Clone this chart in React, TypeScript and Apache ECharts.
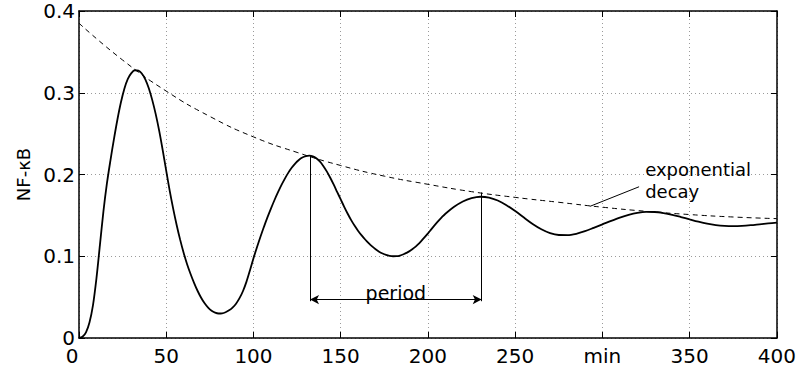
import React, { useEffect, useRef } from "react";
import * as echarts from "echarts";

// time (min) and NF-kB level of the damped oscillation
const timeMin: number[] = [
  0, 2, 4, 6, 8, 10, 12, 14, 16, 18,
  20, 22, 24, 26, 28, 30, 32, 34, 36, 38,
  40, 42, 44, 46, 48, 50, 52, 54, 56, 58,
  60, 62, 64, 66, 68, 70, 72, 74, 76, 78,
  80, 82, 84, 86, 88, 90, 92, 94, 96, 98,
  100, 102, 104, 106, 108, 110, 112, 114, 116, 118,
  120, 122, 124, 126, 128, 130, 132, 134, 136, 138,
  140, 142, 144, 146, 148, 150, 152, 154, 156, 158,
  160, 162, 164, 166, 168, 170, 172, 174, 176, 178,
  180, 182, 184, 186, 188, 190, 192, 194, 196, 198,
  200, 202, 204, 206, 208, 210,
  215, 220, 225, 230, 235, 240, 245, 250, 255, 260, 265, 270, 275, 280, 285, 290, 295,
  300, 305, 310, 315, 320, 325, 330, 335, 340, 345, 350, 355, 360, 365, 370, 375, 380, 385, 390, 395, 400,
];
const nfkb: number[] = [
  0, 0.0015, 0.007, 0.019, 0.04, 0.073, 0.114, 0.155, 0.189, 0.217,
  0.243, 0.267, 0.288, 0.305, 0.317, 0.324, 0.3275, 0.327, 0.3235, 0.3165,
  0.3055, 0.291, 0.2735, 0.253, 0.2295, 0.2045, 0.18, 0.158, 0.138, 0.12,
  0.104, 0.09, 0.078, 0.0672, 0.0575, 0.0492, 0.0424, 0.0371, 0.0333, 0.031,
  0.03, 0.0302, 0.0315, 0.0338, 0.0372, 0.042, 0.0487, 0.0575, 0.069, 0.083,
  0.0975, 0.111, 0.1238, 0.136, 0.1475, 0.1583, 0.1685, 0.178, 0.187, 0.195,
  0.2023, 0.2085, 0.2137, 0.2178, 0.2207, 0.2224, 0.223, 0.2222, 0.2198, 0.216,
  0.2105, 0.2038, 0.196, 0.1875, 0.1785, 0.1695, 0.1605, 0.152, 0.1442, 0.1372,
  0.131, 0.1255, 0.1205, 0.116, 0.112, 0.1085, 0.1056, 0.1033, 0.1016, 0.1005,
  0.1, 0.1001, 0.1009, 0.1024, 0.1044, 0.107, 0.1102, 0.114, 0.1183, 0.123,
  0.128, 0.1332, 0.1383, 0.1432, 0.1478, 0.152,
  0.1605, 0.167, 0.171, 0.1728, 0.1718, 0.1682, 0.1625, 0.1553, 0.1473, 0.1395, 0.133, 0.1283, 0.126, 0.1258, 0.1275, 0.1307, 0.1348,
  0.139, 0.1433, 0.1473, 0.1506, 0.153, 0.1542, 0.1541, 0.1528, 0.1507, 0.148, 0.1451, 0.1423, 0.1399, 0.1382, 0.1372, 0.1369, 0.1372, 0.138, 0.1391, 0.1402, 0.1412,
];

// dashed envelope ("exponential decay")
const decayTime: number[] = [0, 25, 50, 75, 100, 125, 150, 175, 200, 225, 250, 275, 300, 325, 350, 375, 400];
const decayValue: number[] = [0.385, 0.34, 0.302, 0.271, 0.246, 0.227, 0.211, 0.198, 0.188, 0.179, 0.172, 0.166, 0.16, 0.155, 0.151, 0.148, 0.146];

// tick labels
const xTickValues: number[] = [0, 50, 100, 150, 200, 250, 300, 350, 400];
const xTickLabels: string[] = ["0", "50", "100", "150", "200", "250", "min", "350", "400"];
const yTickValues: number[] = [0, 0.1, 0.2, 0.3, 0.4];
const yTickLabels: string[] = ["0", "0.1", "0.2", "0.3", "0.4"];
const yAxisName = "NF-κB";

// annotations (data coordinates)
const periodStart = { t: 132.4, peak: 0.223 };
const periodEnd = { t: 230.8, peak: 0.178 };
const periodArrowLevel = 0.047;
const periodLineBottom = 0.045;
const periodLabel = "period";
const decayPointerFrom: [number, number] = [292.8, 0.161];
const decayPointerTo: [number, number] = [321, 0.185];
const decayTextAt: [number, number] = [324.5, 0.193];
const decayLabel = "exponential\ndecay";

const FONT = "DejaVu Sans";

export default function App() {
  const ref = useRef<HTMLDivElement>(null);

  useEffect(() => {
    if (!ref.current) return;
    const chart = echarts.init(ref.current, undefined, { renderer: "svg" });

    const solidData = timeMin.map((t, i) => [t, nfkb[i]]);
    const decayData = decayTime.map((t, i) => [t, decayValue[i]]);

    const gridLine = { show: true, lineStyle: { color: "#9a9a9a", width: 1, type: [1, 3] as any } };
    const axisLine = { show: true, onZero: false, lineStyle: { color: "#000", width: 1.5 } };
    const tick = { show: true, inside: true, length: 6, lineStyle: { color: "#000", width: 1 } };

    chart.setOption({
      animation: false,
      backgroundColor: "#fff",
      textStyle: { fontFamily: FONT, color: "#000" },
      grid: { left: 79, right: 22, top: 11, bottom: 32, containLabel: false },
      xAxis: [
        {
          type: "value",
          min: 0,
          max: 400,
          interval: 50,
          axisLine,
          axisTick: tick,
          splitLine: gridLine,
          axisLabel: {
            margin: 8,
            fontSize: 20,
            fontFamily: FONT,
            color: "#000",
            formatter: (v: number) => {
              const i = xTickValues.indexOf(v);
              const s = i >= 0 ? xTickLabels[i] : String(v);
              return i === 0 ? "{z|" + s + "}" : s;
            },
            rich: { z: { fontSize: 20, fontFamily: FONT, color: "#000", padding: [0, 14, 0, 0] } },
          },
        },
        {
          type: "value",
          position: "top",
          min: 0,
          max: 400,
          interval: 50,
          axisLine,
          axisTick: tick,
          splitLine: { show: false },
          axisLabel: { show: false },
        },
      ],
      yAxis: [
        {
          type: "value",
          min: 0,
          max: 0.4,
          interval: 0.1,
          axisLine,
          axisTick: tick,
          splitLine: gridLine,
          name: yAxisName,
          nameLocation: "middle",
          nameGap: 47,
          nameTextStyle: { fontSize: 18, fontFamily: FONT, color: "#000" },
          axisLabel: {
            margin: 4,
            fontSize: 20,
            fontFamily: FONT,
            color: "#000",
            formatter: (v: number) => {
              const i = yTickValues.findIndex((y) => Math.abs(y - v) < 1e-9);
              return i >= 0 ? yTickLabels[i] : String(v);
            },
          },
        },
        {
          type: "value",
          position: "right",
          min: 0,
          max: 0.4,
          interval: 0.1,
          axisLine,
          axisTick: tick,
          splitLine: { show: false },
          axisLabel: { show: false },
        },
      ],
      series: [
        {
          type: "line",
          data: decayData,
          smooth: 0.5,
          showSymbol: false,
          symbol: "none",
          silent: true,
          lineStyle: { color: "#000", width: 1, type: [5, 4] as any },
          z: 2,
        },
        {
          type: "line",
          data: solidData,
          smooth: 0.3,
          showSymbol: false,
          symbol: "none",
          silent: true,
          lineStyle: { color: "#000", width: 1.8 },
          z: 3,
          markLine: {
            silent: true,
            symbol: "none",
            animation: false,
            label: { show: false },
            lineStyle: { color: "#000", width: 1, type: "solid" },
            emphasis: { disabled: true },
            data: [
              [
                { coord: [periodStart.t, periodStart.peak] },
                { coord: [periodStart.t, periodLineBottom] },
              ],
              [
                { coord: [periodEnd.t, periodEnd.peak] },
                { coord: [periodEnd.t, periodLineBottom] },
              ],
              [
                {
                  coord: [periodStart.t, periodArrowLevel],
                  symbol: "arrow",
                  symbolSize: [7, 9],
                  label: {
                    show: true,
                    position: "middle",
                    distance: -3,
                    formatter: periodLabel,
                    fontSize: 19,
                    fontFamily: FONT,
                    color: "#000",
                  },
                },
                { coord: [periodEnd.t, periodArrowLevel], symbol: "arrow", symbolSize: [7, 9] },
              ],
              [
                { coord: decayPointerFrom },
                { coord: decayPointerTo },
              ],
            ],
          },
          markPoint: {
            silent: true,
            animation: false,
            data: [
              {
                coord: decayTextAt,
                symbol: "circle",
                symbolSize: 0,
                label: {
                  show: true,
                  position: "right",
                  distance: 0,
                  formatter: decayLabel,
                  fontSize: 18,
                  lineHeight: 22,
                  fontFamily: FONT,
                  color: "#000",
                },
              },
            ],
          },
        },
      ],
    });

    return () => chart.dispose();
  }, []);

  return (
    <div
      ref={ref}
      style={{ position: "fixed", left: 0, top: 0, width: 799, height: 370, background: "#fff" }}
    />
  );
}
